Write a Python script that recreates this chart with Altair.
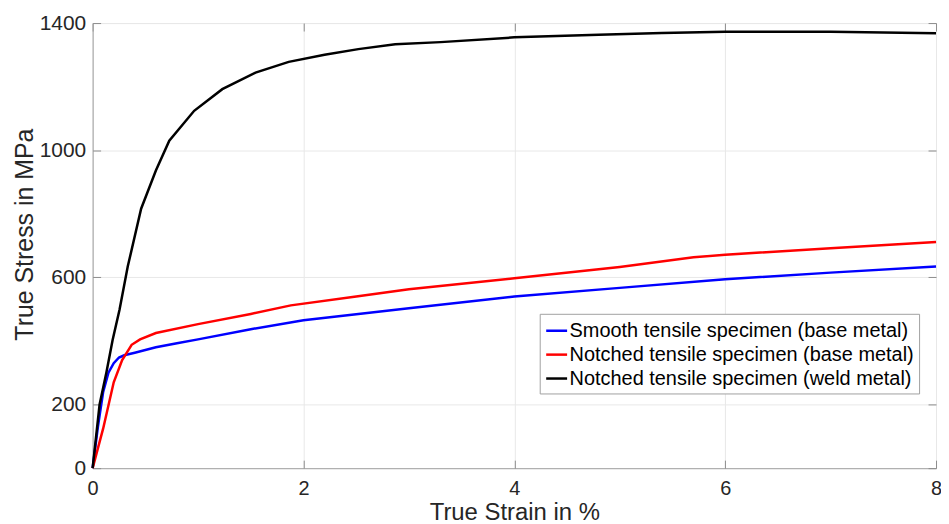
import altair as alt
import pandas as pd

series_names = [
    "Smooth tensile specimen (base metal)",
    "Notched tensile specimen (base metal)",
    "Notched tensile specimen (weld metal)",
]
series_colors = ["#0000ff", "#ff0000", "#000000"]

strain_smooth = [0, 0.05, 0.1, 0.15, 0.2, 0.25, 0.3, 0.4, 0.6, 0.8, 1.0, 1.5, 2.0, 2.5, 3.0, 4.0, 5.0, 6.0, 7.0, 8.0]
stress_smooth = [0, 130, 240, 300, 330, 348, 355, 363, 380, 393, 405, 437, 465, 484, 503, 540, 567, 594, 615, 634]

strain_notched = [0, 0.1, 0.2, 0.28, 0.37, 0.45, 0.6, 1.0, 1.5, 1.88, 2.5, 3.0, 4.0, 5.0, 5.7, 6.0, 7.0, 8.0]
stress_notched = [0, 125, 270, 340, 388, 405, 425, 453, 485, 512, 540, 563, 597, 633, 663, 671, 692, 711]

strain_weld = [0, 0.066, 0.13, 0.19, 0.255, 0.333, 0.46, 0.6, 0.727, 0.963, 1.23, 1.545, 1.86, 2.2, 2.52, 2.87, 3.3, 4.0, 4.8, 5.4, 6.0, 7.0, 8.0]
stress_weld = [0, 200, 300, 404, 498, 634, 816, 936, 1030, 1124, 1192, 1244, 1278, 1300, 1318, 1333, 1340, 1355, 1363, 1369, 1373, 1373, 1368]

x_ticks = [0, 2, 4, 6, 8]
y_ticks = [0, 200, 600, 1000, 1400]

rows = []
for name, xs, ys in zip(series_names,
                        [strain_smooth, strain_notched, strain_weld],
                        [stress_smooth, stress_notched, stress_weld]):
    for i, (a, b) in enumerate(zip(xs, ys)):
        rows.append({"series": name, "strain": a, "stress": b, "order": i})
df = pd.DataFrame(rows)

FONT = "Liberation Sans"
TXT = "#262626"
AXC = "#a6a6a6"
TICKC = "#8c8c8c"

xscale = alt.Scale(domain=[0, 8], nice=False, zero=False)
yscale = alt.Scale(domain=[0, 1400], nice=False, zero=False)

lines = alt.Chart(df).mark_line(strokeWidth=2.5).encode(
    x=alt.X("strain:Q", scale=xscale,
            axis=alt.Axis(orient="bottom", values=x_ticks, format="d", title="True Strain in %",
                          grid=True, gridColor="#e8e8e8", tickSize=0, labelPadding=10,
                          labelFontSize=20, titleFontSize=24, labelFont=FONT, titleFont=FONT,
                          labelColor=TXT, titleColor=TXT, titleFontWeight="normal",
                          titleBaseline="alphabetic", titleY=52,
                          domainColor=AXC, labelFlush=False)),
    y=alt.Y("stress:Q", scale=yscale,
            axis=alt.Axis(orient="left", values=y_ticks, format="d", title="True Stress in MPa",
                          grid=True, gridColor="#e8e8e8", tickSize=0, labelPadding=7,
                          labelFontSize=21, titleFontSize=25, labelFont=FONT, titleFont=FONT,
                          labelColor=TXT, titleColor=TXT, titleFontWeight="normal",
                          titleBaseline="alphabetic", titleX=-60, titleY=212,
                          domainColor=AXC, labelFlush=False)),
    color=alt.Color("series:N",
                    scale=alt.Scale(domain=series_names, range=series_colors),
                    legend=alt.Legend(title=None, orient="none", legendX=449, legendY=292,
                                      symbolType="stroke", symbolSize=441, symbolStrokeWidth=2.5,
                                      labelFontSize=20, labelFont=FONT, labelColor="#000000",
                                      labelLimit=600, labelOffset=1, padding=5, rowPadding=2,
                                      strokeColor="#a0a0a0", fillColor="#ffffff")),
    order="order:Q",
)

tick_df = pd.DataFrame({"strain": [0.0], "stress": [0.0]})

def inner_ticks(xorient, yorient):
    return alt.Chart(tick_df).mark_point(opacity=0).encode(
        x=alt.X("strain:Q", scale=xscale,
                axis=alt.Axis(orient=xorient, offset=-8, tickSize=8, tickColor=TICKC,
                              labels=False, domain=False, grid=False, title=None, values=x_ticks)),
        y=alt.Y("stress:Q", scale=yscale,
                axis=alt.Axis(orient=yorient, offset=-8, tickSize=8, tickColor=TICKC,
                              labels=False, domain=False, grid=False, title=None, values=y_ticks)),
    )

chart = alt.layer(lines, inner_ticks("bottom", "left"), inner_ticks("top", "right")).resolve_axis(
    x="independent", y="independent"
).properties(
    width=847, height=447,
    autosize=alt.AutoSizeParams(type="none"),
    padding={"left": 85, "top": 14, "right": 5, "bottom": 60},
).configure_view(stroke=AXC, strokeWidth=1).configure(background="#ffffff")

chart.save("out.html", embed_options={"renderer": "svg", "actions": False})
